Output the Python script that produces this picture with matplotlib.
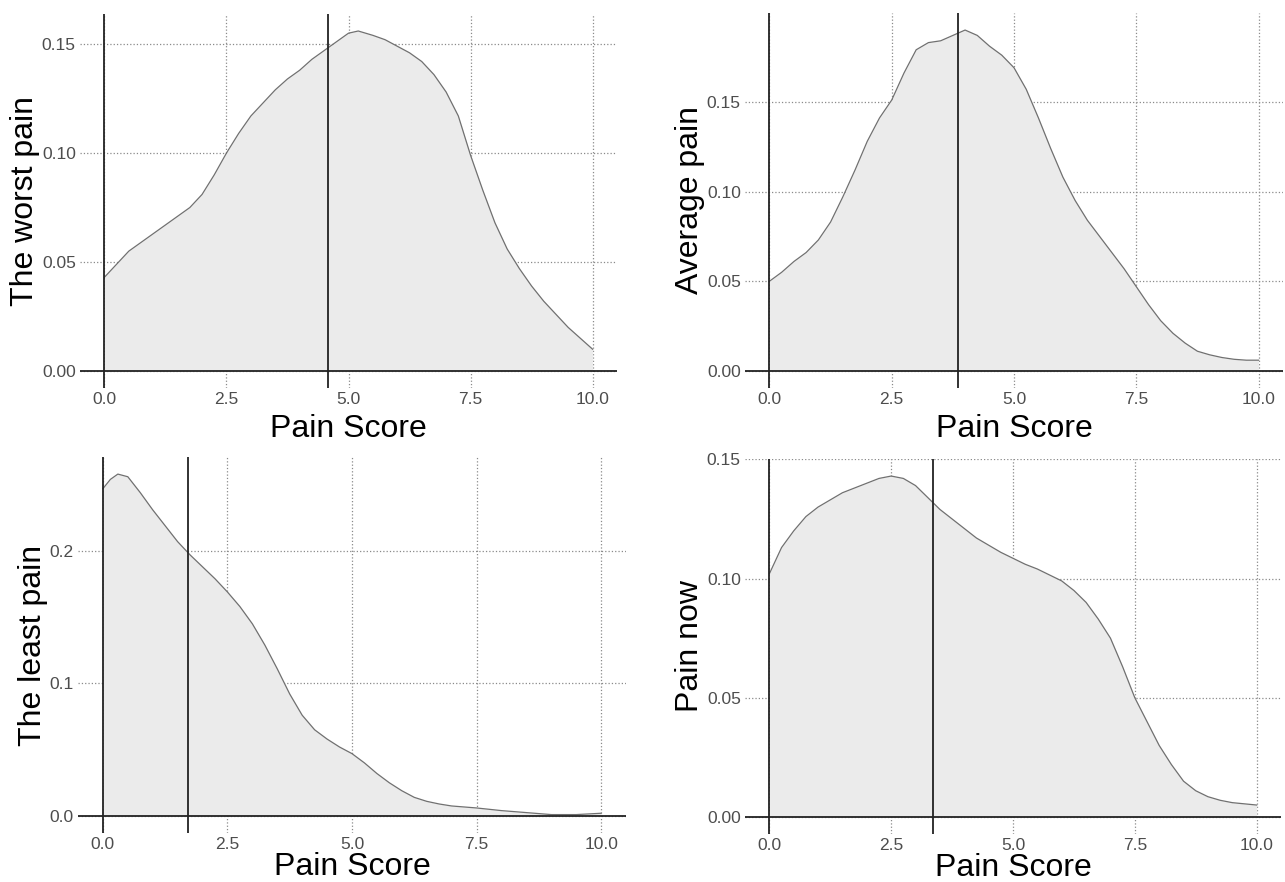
import numpy as np
import matplotlib
matplotlib.use('Agg')
import matplotlib.pyplot as plt

plt.rcParams['font.family'] = ['Liberation Sans', 'DejaVu Sans']

# density curves
x_worst = [0, 0.25, 0.5, 0.75, 1.0, 1.25, 1.5, 1.75, 2.0, 2.25, 2.5, 2.75, 3.0, 3.25, 3.5, 3.75, 4.0, 4.25, 4.5,
           4.75, 5.0, 5.2, 5.5, 5.75, 6.0, 6.25, 6.5, 6.75, 7.0, 7.25, 7.5, 7.75, 8.0, 8.25, 8.5, 8.75, 9.0, 9.25,
           9.5, 9.75, 10]
y_worst = [0.043, 0.049, 0.055, 0.059, 0.063, 0.067, 0.071, 0.075, 0.081, 0.090, 0.100, 0.109, 0.117, 0.123,
           0.129, 0.134, 0.138, 0.143, 0.147, 0.151, 0.155, 0.156, 0.154, 0.152, 0.149, 0.146, 0.142, 0.136,
           0.128, 0.117, 0.099, 0.083, 0.068, 0.056, 0.047, 0.039, 0.032, 0.026, 0.020, 0.015, 0.010]

x_avg = [0, 0.25, 0.5, 0.75, 1.0, 1.25, 1.5, 1.75, 2.0, 2.25, 2.5, 2.75, 3.0, 3.25, 3.5, 3.75, 4.0, 4.25, 4.5,
         4.75, 5.0, 5.25, 5.5, 5.75, 6.0, 6.25, 6.5, 6.75, 7.0, 7.25, 7.5, 7.75, 8.0, 8.25, 8.5, 8.75, 9.0,
         9.25, 9.5, 9.75, 10]
y_avg = [0.050, 0.055, 0.061, 0.066, 0.073, 0.083, 0.097, 0.112, 0.128, 0.141, 0.151, 0.166, 0.179, 0.183,
         0.184, 0.187, 0.190, 0.187, 0.181, 0.176, 0.169, 0.157, 0.141, 0.124, 0.108, 0.095, 0.084, 0.075,
         0.066, 0.057, 0.047, 0.037, 0.028, 0.021, 0.0155, 0.011, 0.009, 0.0075, 0.0065, 0.006, 0.006]

x_least = [0, 0.15, 0.3, 0.5, 0.75, 1.0, 1.25, 1.5, 1.75, 2.0, 2.25, 2.5, 2.75, 3.0, 3.25, 3.5, 3.75, 4.0, 4.25,
           4.5, 4.75, 5.0, 5.25, 5.5, 5.75, 6.0, 6.25, 6.5, 6.75, 7.0, 7.5, 8.0, 8.5, 9.0, 9.5, 10]
y_least = [0.247, 0.254, 0.258, 0.256, 0.244, 0.231, 0.219, 0.207, 0.197, 0.188, 0.179, 0.169, 0.158, 0.145,
           0.129, 0.111, 0.092, 0.076, 0.065, 0.058, 0.052, 0.047, 0.040, 0.032, 0.025, 0.019, 0.014, 0.011,
           0.009, 0.0075, 0.006, 0.004, 0.0025, 0.001, 0.001, 0.002]

x_now = [0, 0.25, 0.5, 0.75, 1.0, 1.25, 1.5, 1.75, 2.0, 2.25, 2.5, 2.75, 3.0, 3.25, 3.5, 3.75, 4.0, 4.25, 4.5,
         4.75, 5.0, 5.25, 5.5, 5.75, 6.0, 6.25, 6.5, 6.75, 7.0, 7.25, 7.5, 7.75, 8.0, 8.25, 8.5, 8.75, 9.0,
         9.25, 9.5, 10]
y_now = [0.102, 0.113, 0.120, 0.126, 0.130, 0.133, 0.136, 0.138, 0.140, 0.142, 0.143, 0.142, 0.139, 0.134,
         0.129, 0.125, 0.121, 0.117, 0.114, 0.111, 0.1085, 0.106, 0.104, 0.1015, 0.099, 0.095, 0.090, 0.083,
         0.075, 0.063, 0.050, 0.040, 0.030, 0.022, 0.015, 0.011, 0.0085, 0.007, 0.006, 0.005]

labels = ['The worst pain', 'Average pain', 'The least pain', 'Pain now']
means = [4.59, 3.86, 1.71, 3.35]
xs = [x_worst, x_avg, x_least, x_now]
ys = [y_worst, y_avg, y_least, y_now]
yticks = [[0.00, 0.05, 0.10, 0.15], [0.00, 0.05, 0.10, 0.15], [0.0, 0.1, 0.2], [0.00, 0.05, 0.10, 0.15]]
yfmt = ['%.2f', '%.2f', '%.1f', '%.2f']
xticks = [0.0, 2.5, 5.0, 7.5, 10.0]

W, H = 1285, 882
# panel boxes in pixels: left, right, top, bottom
boxes = [(80, 617, 14, 388), (745, 1283, 13, 388), (78, 626, 457, 833), (745, 1281, 459, 834)]
xlabel_pad = [5, 5, 0, 0]

fig = plt.figure(figsize=(W / 100, H / 100), dpi=100)

for i in range(4):
    l, r, t, b = boxes[i]
    ax = fig.add_axes([l / W, 1 - b / H, (r - l) / W, (b - t) / H])
    ax.set_facecolor('white')
    ax.fill_between(xs[i], 0, ys[i], color='#ebebeb', lw=0, zorder=1)
    ax.plot(xs[i], ys[i], color='#707070', lw=0.9, zorder=2, solid_joinstyle='round')
    ymax = max(ys[i])
    ax.set_xlim(-0.5, 10.5)
    ax.set_ylim(-0.05 * ymax, 1.05 * ymax)
    ax.set_xticks(xticks)
    ax.set_xticklabels(['%.1f' % v for v in xticks])
    ax.set_yticks(yticks[i])
    ax.set_yticklabels([yfmt[i] % v for v in yticks[i]])
    ax.grid(True, color='#8a8a8a', linestyle=':', linewidth=0.9, zorder=0)
    ax.set_axisbelow(True)
    for s in ax.spines.values():
        s.set_visible(False)
    ax.tick_params(length=0, labelsize=12.5, labelcolor='#4d4d4d', pad=3)
    ax.axhline(0, color='#222222', lw=1.3, zorder=3)
    ax.axvline(0, color='#222222', lw=1.3, zorder=3)
    ax.axvline(means[i], color='#222222', lw=1.3, zorder=3)
    ax.set_xlabel('Pain Score', fontsize=23, labelpad=xlabel_pad[i])
    ax.set_ylabel(labels[i], fontsize=23, labelpad=1)

plt.savefig('out.png', dpi=100)
plt.close()
